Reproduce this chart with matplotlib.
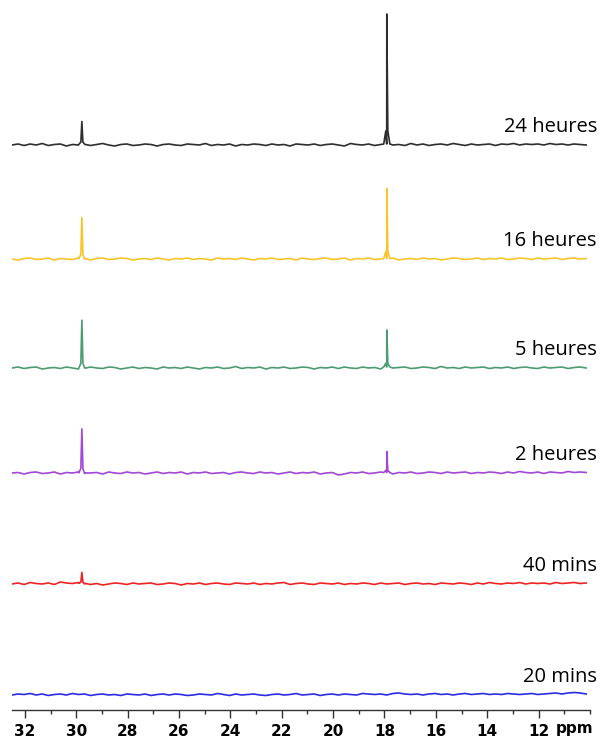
import numpy as np
import matplotlib
matplotlib.use("Agg")
from matplotlib import pyplot as plt
from matplotlib.ticker import MultipleLocator

# spectra, top to bottom
labels = ["24 heures", "16 heures", "5 heures", "2 heures", "40 mins", "20 mins"]
colors = ["#2e2e2e", "#f7c52a", "#4d9b72", "#a247d6", "#ee2424", "#2b2be6"]
baselines = [565, 451, 342, 237, 126, 15]   # baseline height above axis line (px)

# peak positions (ppm) and heights (px above baseline)
peak_ppm = [29.78, 17.91]
peak_h = [
    [23, 130],
    [41, 70],
    [48, 37],
    [44, 21],
    [11, 0],
    [0, 0],
]

# baseline wiggle, hand read (px), left to right
noise = [
    [0, 1, -0.5, 1, 0, 1.5, -0.5, 0.5, 1, -1, 0.5, 0, 1, -0.5, 0.5, 1.5, 0, -1, 0.5, 1,
     -0.5, 0, 1, 0.5, -1, 0.5, 1, 0, -0.5, 1, 0.5, 0, 1.5, -0.5, 0.5, 0, 1, -1, 0.5, 0,
     1, 0.5, -0.5, 1, 0, 0.5, -1, 1, 0.5, 0, 1, -0.5, 0.5, 1, 0, -1, 1.5, 0.5, 0, 1,
     -0.5, 0.5, 1, 0, 0.5, -0.5, 1.5, 0, 1, -0.5, 0.5, 1, 0, 1.5, 0.5, -0.5, 1, 0, 0.5, 1,
     -0.5, 1, 0.5, 1.5, 0, 1, 0.5, 1, 0, 1.5, 0.5, 1, 0, 1, 0.5, 0],
    [0, -1, 0.5, 1, -0.5, 0, 1, -1, 0.5, 0, -0.5, 1, 0, -1, 0.5, 1, -0.5, 0, 1, 0.5,
     -1, 0, 0.5, -0.5, 1, 0, -1, 0.5, 0, 1, -0.5, 0.5, 0, -1, 1, 0, 0.5, -0.5, 1, 0,
     -1, 0.5, 0, 1, -0.5, 0, 0.5, -1, 1, 0, -0.5, 0.5, 1, -0.5, 0, 1, -1, 0.5, 0, 1,
     -0.5, 0, 0.5, 1, -1, 0, 0.5, -0.5, 1, 0, 0.5, -1, 0, 1, 0.5, -0.5, 0, 1, -0.5, 0.5,
     0, 1, -0.5, 0, 1, 0.5, -0.5, 1, 0, 0.5, 1, -0.5, 0.5, 1, 0, 0.5],
    [0, 1, -0.5, 0.5, 1, -1, 0, 0.5, -0.5, 1, 0, -1, 0.5, 1, 0, -0.5, 1, 0.5, -1, 0,
     1, -0.5, 0.5, 0, -1, 1, 0, 0.5, -0.5, 1, 0, -1, 0.5, 0, 1, -0.5, 0, 1.5, -0.5, 0.5,
     0, 1, -1, 0.5, 0, 1, -0.5, 0, 1, 0.5, -1, 0.5, 0, 1, -0.5, 1, 0, -0.5, 1, 0,
     0.5, -1, 1, 0, 0.5, 1, -0.5, 0, 1, 0.5, -0.5, 1.5, 0, 0.5, -0.5, 1, 0, 0.5, 1, -0.5,
     0.5, 0, 1, -0.5, 0.5, 1, 0, -0.5, 1, 0, 0.5, 1, -0.5, 0.5, 1, 0],
    [0, 0.5, -1, 0.5, 1, -0.5, 0, 1, -1, 0.5, 0, 1, -0.5, 0, 0.5, -1, 1, 0, -0.5, 1,
     0, 0.5, -1, 0, 1, -0.5, 0.5, 0, 1, -1, 0.5, 0, 1, -0.5, 0, 0.5, -1, 0.5, 1, 0,
     -0.5, 1, 0, 0.5, -1, 0, 1, -0.5, 0.5, 0, 1, -1, 0, 0.5, -2, -1, 0.5, 0, 1, -0.5,
     0, 1, 0.5, -1, 0.5, 0, 1, -0.5, 0, 1, 0.5, -0.5, 1, 0, 0.5, 1, -0.5, 0.5, 0, 1,
     0.5, -0.5, 1, 0, 1.5, 0.5, 0, 1, -0.5, 1, 0.5, 0, 1.5, 0.5, 1, 0.5],
    [0, 1, -0.5, 1.5, 0.5, 0, 1, -0.5, 2, 1, 0.5, 1.5, 0, -0.5, 0.5, -1, 0, 1, 0.5, -0.5,
     1, 0, 0.5, 1, -0.5, 0, 1, 0.5, -1, 0.5, 0, 1, -0.5, 0.5, 1, 0, -0.5, 1, 0.5, 0,
     1, -0.5, 0.5, 0, 1, 1.5, -0.5, 0.5, 1, 0, -0.5, 1, 0.5, 0, 1, -0.5, 0.5, 0, 1, 0.5,
     -0.5, 1, 0, 0.5, 1, -0.5, 0.5, 1, 0, 0.5, -0.5, 1, 0.5, 0, 1, 0.5, -0.5, 1, 0, 1.5,
     0.5, 0, 1, 0.5, 1.5, 0, 1, 0.5, 1, 0, 1.5, 0.5, 1, 1.5, 0.5, 1],
    [0, 1, 0.5, 1.5, 0, 1, -0.5, 0.5, 1, 0, 1.5, 0.5, 1, -0.5, 0.5, 1, 0, 0.5, -0.5, 1,
     0.5, 0, 1, -0.5, 0.5, 1, 0, 1, 0.5, -0.5, 0, 1, 0.5, 0, 1.5, 0.5, -0.5, 1, 0, 0.5,
     1, 0, -0.5, 0.5, 1, 0, 0.5, 1.5, 0, 0.5, 1, -0.5, 0.5, 1, 0, 1, 0.5, 0, 1.5, 1,
     0.5, 1, 0, 1.5, 2, 1, 0.5, 1, 0, 1, 1.5, 0.5, 1, 0, 1, 1.5, 0.5, 1, 1.5, 0.5,
     1, 0.5, 1.5, 1, 0.5, 1, 1.5, 0.5, 1, 1.5, 2, 1, 2, 2.5, 2, 1],
]

ticks = [32, 30, 28, 26, 24, 22, 20, 18, 16, 14, 12]

fig = plt.figure(figsize=(6.0, 7.42), dpi=100)
ax = fig.add_axes([12 / 600, 32 / 742, (590 - 12) / 600, 1 - 32 / 742])
ax.set_xlim(32.5, 10.0)
ax.set_ylim(0, 710)

for i in range(len(labels)):
    n = np.array(noise[i], dtype=float)
    x = np.linspace(32.5, 10.15, len(n))
    y = baselines[i] + n
    px = list(x)
    py = list(y)
    for p, h in zip(peak_ppm, peak_h[i]):
        if h <= 0:
            continue
        b = np.interp(p, x[::-1], y[::-1])
        px += [p + 0.12, p + 0.04, p, p - 0.04, p - 0.12]
        py += [b, b + h * 0.1, b + h, b + h * 0.1, b]
    order = np.argsort(px)[::-1]
    ax.plot(np.array(px)[order], np.array(py)[order], color=colors[i], lw=1.2)
    ax.text(1.012, (baselines[i] + 18) / 710, labels[i], transform=ax.transAxes,
            ha="right", va="center", fontsize=14.5, family="Open Sans", color="black")

for s in ["top", "left", "right"]:
    ax.spines[s].set_visible(False)
ax.spines["bottom"].set_linewidth(1.0)
ax.spines["bottom"].set_color("#333333")
ax.set_yticks([])
ax.set_xticks(ticks)
ax.set_xticklabels([str(t) for t in ticks])
ax.xaxis.set_minor_locator(MultipleLocator(1))
ax.tick_params(axis="x", which="major", length=6, width=1, color="#333333", pad=4)
ax.tick_params(axis="x", which="minor", length=3, width=1, color="#333333")
for lab in ax.get_xticklabels():
    lab.set_fontweight("bold")
    lab.set_fontsize(11)
    lab.set_family("Liberation Sans Narrow")
ax.text(10.6, -19, "ppm", ha="center", va="center", fontsize=11,
        fontweight="bold", family="Liberation Sans Narrow", clip_on=False)

plt.savefig("out.png", dpi=100)
